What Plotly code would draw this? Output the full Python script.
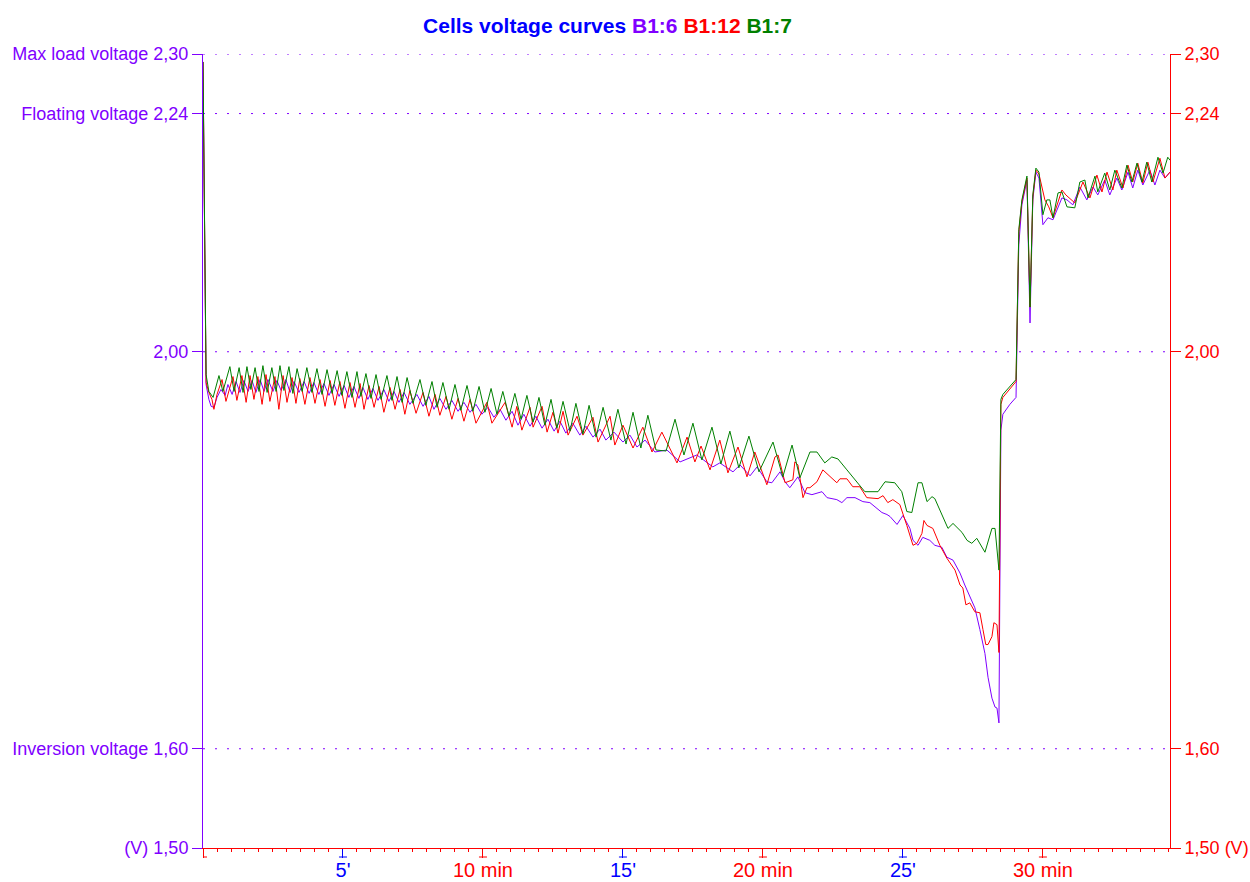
import plotly.graph_objects as go

# ---------------- data (time in minutes, cell voltage in V) ----------------
B16_T = [
    0, 0.11, 0.21, 0.29, 0.39, 0.50, 0.64, 0.79, 0.89, 1.04,
    1.18, 1.32, 1.46, 1.61, 1.75, 1.89, 2.04, 2.18, 2.32, 2.50,
    2.64, 2.79, 2.96, 3.11, 3.25, 3.43, 3.61, 3.79, 3.96, 4.14,
    4.32, 4.50, 4.68, 4.86, 5.04, 5.21, 5.39, 5.57, 5.71, 5.89,
    6.07, 6.25, 6.46, 6.64, 6.82, 7.00, 7.18, 7.39, 7.64, 7.86,
    8.07, 8.25, 8.46, 8.68, 8.89, 9.11, 9.32, 9.54, 9.75, 9.96,
    10.18, 10.39, 10.61, 10.82, 11.04, 11.25, 11.46, 11.68, 11.89, 12.11,
    12.32, 12.54, 12.75, 12.96, 13.21, 13.46, 13.68, 13.93, 14.18, 14.39,
    14.68, 15.00, 15.25, 15.50, 15.79, 16.14, 16.57, 17.04, 17.64, 18.21,
    18.46, 18.93, 19.18, 19.54, 19.79, 20.14, 20.32, 20.61, 20.79, 20.96,
    21.25, 21.50, 21.75, 22.11, 22.29, 22.64, 22.82, 23.00, 23.29, 23.57,
    23.82, 24.00, 24.25, 24.43, 24.54, 24.79, 25.00, 25.25, 25.36, 25.54,
    25.71, 25.96, 26.14, 26.39, 26.57, 26.79, 27.04, 27.21, 27.39, 27.57,
    27.75, 27.93, 28.04, 28.18, 28.29, 28.36, 28.43, 28.50, 28.57, 28.82,
    29.04, 29.14, 29.25, 29.43, 29.54, 29.64, 29.75, 29.86, 30.00, 30.18,
    30.36, 30.68, 30.86, 31.07, 31.32, 31.57, 31.79, 31.96, 32.21, 32.39,
    32.64, 32.82, 33.04, 33.21, 33.39, 33.57, 33.82, 34.00, 34.18, 34.36,
    34.54,
]
B16_V = [
    2.292, 1.967, 1.952, 1.945, 1.944, 1.954, 1.962, 1.956, 1.967, 1.957,
    1.970, 1.959, 1.971, 1.960, 1.971, 1.959, 1.972, 1.960, 1.972, 1.960,
    1.971, 1.961, 1.972, 1.959, 1.970, 1.959, 1.970, 1.958, 1.969, 1.957,
    1.968, 1.956, 1.967, 1.955, 1.966, 1.954, 1.965, 1.953, 1.964, 1.952,
    1.963, 1.951, 1.962, 1.950, 1.960, 1.949, 1.959, 1.947, 1.957, 1.945,
    1.955, 1.942, 1.953, 1.942, 1.951, 1.940, 1.949, 1.939, 1.947, 1.937,
    1.944, 1.934, 1.942, 1.931, 1.940, 1.926, 1.937, 1.925, 1.935, 1.923,
    1.932, 1.920, 1.930, 1.918, 1.928, 1.916, 1.925, 1.914, 1.922, 1.911,
    1.919, 1.909, 1.916, 1.904, 1.911, 1.899, 1.901, 1.889, 1.896, 1.884,
    1.888, 1.879, 1.886, 1.875, 1.884, 1.869, 1.868, 1.879, 1.869, 1.863,
    1.874, 1.858, 1.856, 1.859, 1.853, 1.851, 1.848, 1.853, 1.853, 1.849,
    1.848, 1.844, 1.838, 1.836, 1.834, 1.826, 1.835, 1.822, 1.810, 1.805,
    1.813, 1.810, 1.805, 1.803, 1.793, 1.790, 1.777, 1.765, 1.753, 1.742,
    1.720, 1.696, 1.672, 1.651, 1.642, 1.641, 1.626, 1.921, 1.937, 1.947,
    1.954, 2.108, 2.148, 2.173, 2.029, 2.153, 2.181, 2.175, 2.128, 2.135,
    2.133, 2.155, 2.153, 2.148, 2.166, 2.153, 2.166, 2.158, 2.173, 2.158,
    2.175, 2.163, 2.181, 2.165, 2.183, 2.168, 2.183, 2.168, 2.183, 2.175,
    2.181,
]

B112_T = [
    0, 0.11, 0.21, 0.32, 0.39, 0.50, 0.68, 0.82, 1.07, 1.21,
    1.39, 1.54, 1.68, 1.82, 1.96, 2.11, 2.25, 2.39, 2.57, 2.71,
    2.86, 3.00, 3.18, 3.32, 3.46, 3.64, 3.82, 4.00, 4.18, 4.36,
    4.54, 4.71, 4.89, 5.07, 5.25, 5.43, 5.61, 5.75, 5.93, 6.11,
    6.29, 6.46, 6.68, 6.86, 7.04, 7.21, 7.39, 7.61, 7.86, 8.07,
    8.29, 8.46, 8.68, 8.89, 9.11, 9.32, 9.54, 9.75, 10.14, 10.32,
    10.79, 11.04, 11.21, 11.39, 11.68, 11.79, 12.11, 12.29, 12.50, 12.68,
    12.86, 13.04, 13.36, 13.57, 13.93, 14.11, 14.54, 14.71, 15.00, 15.36,
    15.71, 16.04, 16.39, 16.93, 17.29, 17.57, 17.79, 18.11, 18.46, 18.75,
    19.11, 19.43, 19.71, 20.14, 20.43, 20.54, 20.79, 21.07, 21.14, 21.25,
    21.43, 21.57, 21.68, 21.93, 22.14, 22.64, 22.75, 23.00, 23.21, 23.46,
    23.71, 24.11, 24.29, 24.46, 24.64, 24.89, 25.14, 25.36, 25.50, 25.68,
    25.75, 25.86, 26.07, 26.32, 26.57, 26.68, 26.86, 27.04, 27.14, 27.25,
    27.39, 27.57, 27.75, 27.86, 27.96, 28.04, 28.18, 28.25, 28.36, 28.43,
    28.50, 28.57, 28.82, 29.04, 29.14, 29.25, 29.43, 29.54, 29.64, 29.75,
    29.86, 30.07, 30.21, 30.36, 30.68, 30.82, 31.14, 31.43, 31.68, 31.93,
    32.11, 32.29, 32.50, 32.64, 32.86, 33.04, 33.21, 33.39, 33.57, 33.75,
    33.93, 34.18, 34.36, 34.54,
]
B112_V = [
    2.292, 1.969, 1.959, 1.952, 1.942, 1.957, 1.972, 1.950, 1.975, 1.951,
    1.976, 1.949, 1.976, 1.952, 1.975, 1.947, 1.977, 1.950, 1.975, 1.942,
    1.976, 1.949, 1.974, 1.948, 1.973, 1.947, 1.974, 1.948, 1.972, 1.945,
    1.971, 1.946, 1.970, 1.943, 1.969, 1.944, 1.968, 1.942, 1.966, 1.944,
    1.965, 1.939, 1.964, 1.942, 1.962, 1.937, 1.961, 1.938, 1.959, 1.935,
    1.957, 1.936, 1.955, 1.932, 1.953, 1.930, 1.952, 1.928, 1.949, 1.928,
    1.949, 1.924, 1.945, 1.921, 1.944, 1.924, 1.945, 1.919, 1.939, 1.918,
    1.940, 1.916, 1.935, 1.916, 1.934, 1.909, 1.935, 1.906, 1.926, 1.903,
    1.924, 1.899, 1.919, 1.888, 1.914, 1.889, 1.905, 1.881, 1.911, 1.878,
    1.904, 1.874, 1.899, 1.866, 1.894, 1.896, 1.868, 1.871, 1.889, 1.886,
    1.853, 1.863, 1.863, 1.869, 1.881, 1.868, 1.872, 1.872, 1.864, 1.864,
    1.853, 1.852, 1.855, 1.848, 1.851, 1.846, 1.825, 1.805, 1.807, 1.817,
    1.830, 1.825, 1.822, 1.805, 1.792, 1.787, 1.780, 1.765, 1.762, 1.745,
    1.747, 1.738, 1.737, 1.720, 1.705, 1.705, 1.713, 1.727, 1.725, 1.697,
    1.947, 1.954, 1.962, 1.970, 2.121, 2.151, 2.175, 2.045, 2.156, 2.183,
    2.179, 2.153, 2.146, 2.135, 2.163, 2.158, 2.150, 2.171, 2.155, 2.178,
    2.161, 2.181, 2.163, 2.183, 2.165, 2.188, 2.171, 2.190, 2.170, 2.191,
    2.171, 2.195, 2.175, 2.181,
]

B17_T = [
    0, 0.11, 0.21, 0.36, 0.57, 0.71, 0.96, 1.11, 1.29, 1.43,
    1.57, 1.71, 1.86, 2.00, 2.14, 2.29, 2.46, 2.61, 2.75, 2.89,
    3.07, 3.21, 3.36, 3.54, 3.71, 3.89, 4.07, 4.25, 4.43, 4.61,
    4.79, 4.96, 5.14, 5.32, 5.50, 5.64, 5.82, 6.00, 6.18, 6.36,
    6.57, 6.75, 6.93, 7.11, 7.29, 7.50, 7.75, 7.96, 8.18, 8.36,
    8.57, 8.79, 9.00, 9.21, 9.43, 9.64, 9.86, 10.07, 10.29, 10.50,
    10.71, 10.93, 11.14, 11.36, 11.57, 11.79, 12.00, 12.21, 12.43, 12.64,
    12.86, 13.11, 13.32, 13.57, 13.79, 14.04, 14.29, 14.57, 14.82, 15.11,
    15.36, 15.64, 15.89, 16.18, 16.54, 16.86, 17.18, 17.50, 17.82, 18.18,
    18.50, 18.82, 19.14, 19.50, 19.86, 20.36, 20.71, 21.04, 21.32, 21.68,
    21.93, 22.21, 22.46, 22.68, 23.00, 23.39, 23.64, 24.11, 24.36, 24.71,
    24.96, 25.14, 25.32, 25.54, 25.68, 25.86, 26.04, 26.14, 26.43, 26.61,
    26.79, 27.11, 27.29, 27.46, 27.64, 27.93, 28.18, 28.29, 28.43, 28.50,
    28.57, 28.82, 29.04, 29.14, 29.25, 29.43, 29.54, 29.64, 29.75, 29.86,
    30.00, 30.14, 30.25, 30.36, 30.54, 30.68, 30.86, 31.14, 31.32, 31.50,
    31.61, 31.86, 31.96, 32.21, 32.39, 32.57, 32.82, 33.00, 33.18, 33.36,
    33.54, 33.71, 33.89, 34.11, 34.29, 34.46, 34.54,
]
B17_V = [
    2.292, 1.977, 1.960, 1.954, 1.976, 1.960, 1.985, 1.960, 1.984, 1.959,
    1.985, 1.962, 1.984, 1.960, 1.986, 1.959, 1.984, 1.960, 1.986, 1.961,
    1.985, 1.958, 1.983, 1.960, 1.984, 1.959, 1.983, 1.957, 1.982, 1.958,
    1.981, 1.956, 1.980, 1.954, 1.980, 1.955, 1.978, 1.953, 1.977, 1.952,
    1.976, 1.951, 1.975, 1.949, 1.974, 1.948, 1.972, 1.946, 1.970, 1.944,
    1.969, 1.942, 1.967, 1.941, 1.966, 1.940, 1.965, 1.939, 1.963, 1.937,
    1.960, 1.935, 1.958, 1.932, 1.956, 1.929, 1.954, 1.926, 1.952, 1.923,
    1.950, 1.920, 1.948, 1.917, 1.946, 1.914, 1.944, 1.911, 1.942, 1.907,
    1.939, 1.903, 1.936, 1.901, 1.900, 1.932, 1.896, 1.928, 1.891, 1.924,
    1.887, 1.920, 1.883, 1.915, 1.879, 1.909, 1.874, 1.906, 1.873, 1.899,
    1.899, 1.888, 1.894, 1.892, 1.881, 1.868, 1.859, 1.859, 1.869, 1.868,
    1.859, 1.839, 1.838, 1.868, 1.868, 1.849, 1.854, 1.852, 1.834, 1.822,
    1.827, 1.818, 1.810, 1.807, 1.812, 1.798, 1.822, 1.822, 1.780, 1.952,
    1.957, 1.965, 1.972, 2.123, 2.153, 2.177, 2.045, 2.158, 2.185, 2.181,
    2.138, 2.153, 2.153, 2.135, 2.160, 2.161, 2.146, 2.145, 2.171, 2.173,
    2.155, 2.177, 2.161, 2.180, 2.163, 2.183, 2.165, 2.188, 2.171, 2.190,
    2.171, 2.191, 2.171, 2.196, 2.180, 2.196, 2.193,
]

assert len(B16_T) == len(B16_V)
assert len(B112_T) == len(B112_V)
assert len(B17_T) == len(B17_V)

# axes / labels
Y_TICKS = [1.50, 1.60, 2.00, 2.24, 2.30]
Y_GRID = [1.60, 2.00, 2.24, 2.30]
Y_LEFT_TEXT = ["(V) 1,50", "Inversion voltage 1,60", "2,00",
               "Floating voltage 2,24", "Max load voltage 2,30"]
Y_RIGHT_TEXT = ["1,50 (V)", "1,60", "2,00", "2,24", "2,30"]
X_RED_TICKS = [0, 10, 20, 30]
X_RED_TEXT = ["", "10 min", "20 min", "30 min"]
X_BLUE_TICKS = [5, 15, 25]
X_BLUE_TEXT = ["5'", "15'", "25'"]
X_RANGE = [0, 34.54]
Y_RANGE = [1.50, 2.30]

PURPLE = "#8000FF"
RED = "#FF0000"
GREEN = "#008000"
BLUE = "#0000FF"
FONT = "Liberation Sans, Arial, Helvetica, sans-serif"

SERIES = [
    ("B1:6", B16_T, B16_V, PURPLE),
    ("B1:12", B112_T, B112_V, RED),
    ("B1:7", B17_T, B17_V, GREEN),
]

fig = go.Figure()
for name, t, v, col in SERIES:
    fig.add_trace(go.Scatter(x=t, y=v, mode="lines", name=name,
                             line=dict(color=col, width=1), showlegend=False))
# helper trace so the secondary axes are drawn
fig.add_trace(go.Scatter(x=[None], y=[None], xaxis="x2", yaxis="y2",
                         showlegend=False, hoverinfo="skip"))

title_html = ("<b><span style='color:%s'>Cells voltage curves</span> "
              "<span style='color:%s'>%s</span> <span style='color:%s'>%s</span> "
              "<span style='color:%s'>%s</span></b>") % (
    BLUE, PURPLE, SERIES[0][0], RED, SERIES[1][0], GREEN, SERIES[2][0])

fig.update_layout(
    width=1250, height=882,
    margin=dict(l=203, r=80, t=54, b=34, pad=0),
    paper_bgcolor="white", plot_bgcolor="white",
    showlegend=False,
    font=dict(family=FONT),
    title=dict(text=title_html, x=0.486, xanchor="center", xref="container",
               y=0.971, yanchor="middle", yref="container",
               font=dict(family=FONT, size=21)),
    xaxis=dict(range=X_RANGE, tickmode="array", tickvals=X_RED_TICKS,
               ticktext=X_RED_TEXT, ticks="outside", ticklen=9, tickwidth=1,
               tickcolor=RED, showline=True, linecolor=RED, linewidth=1,
               showgrid=False, zeroline=False, automargin=False,
               ticklabelstandoff=-5,
               tickfont=dict(color=RED, size=20, family=FONT),
               minor=dict(dtick=0.5, tick0=0, ticks="outside", ticklen=3,
                          tickcolor=RED, tickwidth=1, showgrid=False)),
    xaxis2=dict(overlaying="x", anchor="y", side="bottom", range=X_RANGE,
                tickmode="array", tickvals=X_BLUE_TICKS, ticktext=X_BLUE_TEXT,
                ticks="outside", ticklen=9, tickwidth=1, tickcolor=BLUE,
                showline=False, showgrid=False, zeroline=False, automargin=False,
                ticklabelstandoff=-5,
                tickfont=dict(color=BLUE, size=20, family=FONT)),
    yaxis=dict(range=Y_RANGE, tickmode="array", tickvals=Y_TICKS,
               ticktext=Y_LEFT_TEXT, ticks="outside", ticklen=10, tickwidth=1,
               tickcolor=PURPLE, showline=True, linecolor=PURPLE, linewidth=1,
               showgrid=False, zeroline=False, automargin=False,
               tickfont=dict(color=PURPLE, size=18, family=FONT)),
    yaxis2=dict(overlaying="y", anchor="x", side="right", range=Y_RANGE,
                tickmode="array", tickvals=Y_TICKS, ticktext=Y_RIGHT_TEXT,
                ticks="outside", ticklen=10, tickwidth=1, tickcolor=RED,
                showline=True, linecolor=RED, linewidth=1, showgrid=False,
                zeroline=False, automargin=False,
                tickfont=dict(color=RED, size=18, family=FONT)),
)

shapes = []
# dotted reference-voltage lines
for yv in Y_GRID:
    shapes.append(dict(type="line", xref="paper", yref="y", x0=0, x1=1,
                       y0=yv, y1=yv, layer="below",
                       line=dict(color=PURPLE, width=1, dash="2px,10px")))
# small horizontal feet at the ends of the major time ticks
for xv in X_RED_TICKS:
    shapes.append(dict(type="line", xref="x", yref="paper",
                       xsizemode="pixel", xanchor=xv,
                       x0=0 if xv == X_RANGE[0] else -4, x1=4,
                       ysizemode="pixel", yanchor=0, y0=-9, y1=-9,
                       line=dict(color=RED, width=1)))
for xv in X_BLUE_TICKS:
    shapes.append(dict(type="line", xref="x", yref="paper",
                       xsizemode="pixel", xanchor=xv, x0=-4, x1=4,
                       ysizemode="pixel", yanchor=0, y0=-9, y1=-9,
                       line=dict(color=BLUE, width=1)))
fig.update_layout(shapes=shapes)

fig.write_html("out.html", config={"displayModeBar": False},
               post_script="document.body.style.margin='0';")
